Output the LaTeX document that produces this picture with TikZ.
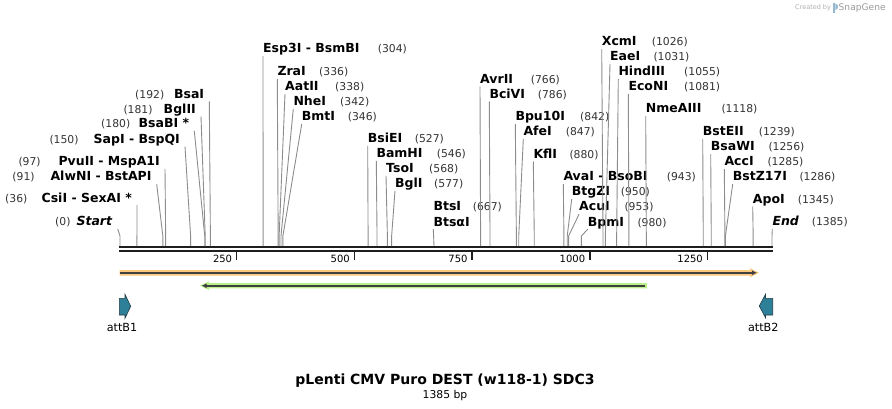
\documentclass[tikz,border=0pt]{standalone}
\usepackage{fontspec}
\setmainfont{DejaVu Sans}
\usepackage{tikz}
\usepackage{xcolor}
\usetikzlibrary{arrows.meta, positioning}
\definecolor{bbone}{RGB}{30,30,30}
\definecolor{cutgray}{RGB}{140,140,140}
\definecolor{featorange}{RGB}{250,200,122}
\definecolor{featgreen}{RGB}{184,240,140}
\definecolor{attteal}{RGB}{46,128,153}
\definecolor{attedge}{RGB}{30,60,70}
\definecolor{logogray}{RGB}{175,175,175}
\definecolor{logoblue}{RGB}{150,185,210}
\tikzset{
	enzname/.style={inner sep=0pt, text depth=3pt, text=black,
		font=\fontsize{12.5}{15}\selectfont\bfseries},
	enznum/.style={inner sep=0pt, text=black!80, font=\fontsize{10.8}{13}\selectfont},
	cutline/.style={draw=cutgray, line width=0.9pt},
	% ruler and features
	scalelabel/.style={inner sep=0pt, anchor=base east, font=\fontsize{10}{12}\selectfont},
	featlabel/.style={inner sep=0pt, anchor=base, font=\fontsize{11.2}{13}\selectfont},
	farrow/.style={line width=1.6pt, draw=black!75, -{Latex[length=5pt,width=5pt]}},
	attbox/.style={fill=attteal, draw=attedge, line width=0.6pt},
	titletext/.style={inner sep=0pt, font=\fontsize{14}{17}\selectfont\bfseries},
	subtext/.style={inner sep=0pt, font=\fontsize{10.8}{13}\selectfont},
}
% site label right of its line: id, name, bp, x, baseline, x of number
\newcommand{\enzR}[6]{%
	\pgfmathsetmacro{\cutx}{120+#3*0.47076}
	\node[enzname, anchor=base west] (#1) at (#4,#5) {#2};
	\node[enznum, anchor=base west] (#1-n) at (#6,#5) {(#3)};
	\coordinate (#1-s) at (\cutx,246);
	\draw[cutline] (#1.south west) -- (\cutx,236) -- (#1-s);
}
% site label left of its line: id, name, bp, right x, baseline, x of number
\newcommand{\enzL}[6]{%
	\pgfmathsetmacro{\cutx}{120+#3*0.47076}
	\node[enzname, anchor=base east] (#1) at (#4,#5) {#2};
	\node[enznum, anchor=base west] (#1-n) at (#6,#5) {(#3)};
	\coordinate (#1-s) at (\cutx,246);
	\draw[cutline] ([xshift=5pt]#1.south east) -- (\cutx,236) -- (#1-s);
}
\begin{document}
\begin{tikzpicture}[x=1pt,y=-1pt]
	\useasboundingbox (0,0) rectangle (892,409);
	% header
	\node[inner sep=0pt, anchor=base west, text=logogray, font=\fontsize{6.5}{8}\selectfont] (created) at (795,10) {Created by};
	\fill[logoblue] (833.3,3.5) rectangle (835.3,13);
	\fill[logoblue] (835.3,3.5) .. controls (839,4) and (839,9.5) .. (835.3,10) -- cycle;
	\node[inner sep=0pt, anchor=base west, text=black!40, font=\fontsize{9.1}{11}\selectfont] (snapgene) at (838.5,10.5) {SnapGene};
	% backbone and ruler
	\draw[bbone, line width=2.6pt] (119.3,247) -- (772.7,247);
	\draw[bbone, line width=2pt] (119.3,251.3) -- (772.7,251.3);
	\foreach \t in {250,500,750,1000,1250}{
		\pgfmathsetmacro{\tx}{119+\t*0.47076}
		\draw[bbone, line width=1.6pt] (\tx,252) -- (\tx,260);
		\node[scalelabel] (tick\t) at (\tx-4.4,262.7) {\t};
	}
	% sites, left side
	\enzL{startlbl}{\textit{Start}}{0}{112.7}{225.7}{55}
	\enzL{csi}{CsiI - SexAI *}{36}{132}{202}{5}
	\enzL{alw}{AlwNI - BstAPI}{91}{151.7}{181}{12.3}
	\enzL{pvu}{PvuII - MspA1I}{97}{160}{165.7}{18.3}
	\enzL{sap}{SapI - BspQI}{150}{180}{143.3}{49.3}
	\enzL{bsab}{BsaBI *}{180}{189.3}{127.7}{101}
	\enzL{bglii}{BglII}{181}{196}{113.3}{123.3}
	\enzL{bsa}{BsaI}{192}{204.3}{98.3}{135}
	% sites, right side
	\enzR{esp}{Esp3I - BsmBI}{304}{263}{52.7}{377.7}
	\enzR{zra}{ZraI}{336}{277.3}{75.7}{319}
	\enzR{aat}{AatII}{338}{285}{91}{335}
	\enzR{nhe}{NheI}{342}{293.3}{105.7}{340}
	\enzR{bmt}{BmtI}{346}{301.7}{121}{347.7}
	\enzR{bsie}{BsiEI}{527}{367.7}{142.7}{414.7}
	\enzR{bamh}{BamHI}{546}{376.3}{157.7}{436.7}
	\enzR{tso}{TsoI}{568}{386}{172.7}{429}
	\enzR{bgli}{BglI}{577}{395}{187.7}{434}
	\node[enzname, anchor=base west] (btsi) at (433.3,211) {BtsI};
	\node[enzname, anchor=base west] (btsa) at (433.3,226) {BtsαI};
	\node[enznum, anchor=base west] (btsa-n) at (472.7,211) {(667)};
	\coordinate (btsa-s) at (434,246);
	\draw[cutline] (btsa.south west) -- (btsa-s);
	\enzR{avr}{AvrII}{766}{480}{83.3}{530.7}
	\enzR{bci}{BciVI}{786}{489.3}{98.3}{537.7}
	\enzR{bpu}{Bpu10I}{842}{515.3}{121}{580}
	\enzR{afe}{AfeI}{847}{523.3}{136}{565.7}
	\enzR{kfl}{KflI}{880}{533.3}{158.3}{569.3}
	\enzR{ava}{AvaI - BsoBI}{943}{563.3}{181}{666.7}
	\enzR{btgz}{BtgZI}{950}{571.7}{196}{620.7}
	\enzR{acu}{AcuI}{953}{579}{211}{624.3}
	\enzR{bpm}{BpmI}{980}{587.7}{226}{637.3}
	\enzR{xcm}{XcmI}{1026}{601.7}{46}{651.7}
	\enzR{eae}{EaeI}{1031}{610}{61}{653.3}
	\enzR{hind}{HindIII}{1055}{618.3}{76}{684}
	\enzR{eco}{EcoNI}{1081}{628.3}{91}{684}
	\enzR{nme}{NmeAIII}{1118}{645.7}{113}{721.3}
	\enzR{bste}{BstEII}{1239}{702.7}{135.7}{758.7}
	\enzR{bsaw}{BsaWI}{1256}{710.7}{151}{768.3}
	\enzR{acc}{AccI}{1285}{724.3}{166}{767.3}
	\enzR{bstz}{BstZ17I}{1286}{732.7}{181}{799.3}
	\enzR{apo}{ApoI}{1345}{752.7}{203.3}{797.7}
	\enzR{endlbl}{\textit{End}}{1385}{772.3}{225.7}{811.7}
	% features
	\fill[featorange] (119.5,270) -- (750,270) -- (750,268.3) -- (759,272.8) -- (750,277.3) -- (750,275.6) -- (119.5,275.6) -- cycle;
	\draw[farrow] (119.5,272.8) -- (757,272.8);
	\fill[featgreen] (647,283) -- (209,283) -- (209,281.3) -- (200,285.7) -- (209,290.1) -- (209,288.4) -- (647,288.4) -- cycle;
	\draw[farrow] (645,285.7) -- (201.5,285.7);
	\filldraw[attbox] (119.3,298.3) -- (125,298.3) -- (125,294.3) -- (130.7,306.3) -- (125,318.3) -- (125,315) -- (119.3,315) -- cycle;
	\filldraw[attbox] (772.7,298.3) -- (765.5,298.3) -- (765.5,294.3) -- (759.3,306) -- (765.5,317.7) -- (765.5,315) -- (772.7,315) -- cycle;
	\node[featlabel] (attb1) at (122,331) {attB1};
	\node[featlabel] (attb2) at (763.3,331) {attB2};
	% title
	\node[titletext, anchor=base] (title) at (445,384) {pLenti CMV Puro DEST (w118-1) SDC3};
	\node[subtext, below=2.5pt of title] (length) {1385 bp};
\end{tikzpicture}
\end{document}
